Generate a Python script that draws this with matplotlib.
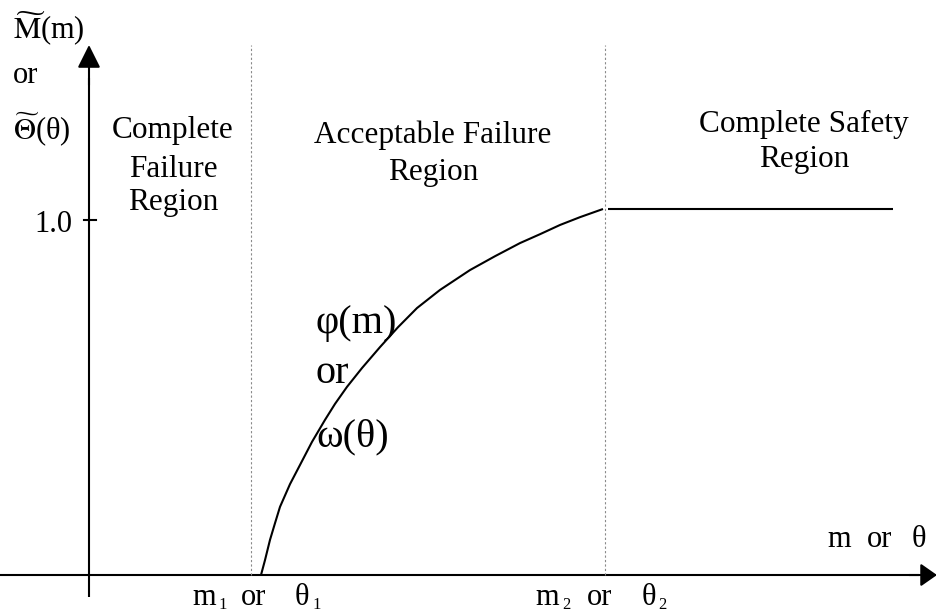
import matplotlib
matplotlib.use("Agg")
import matplotlib.pyplot as plt

plt.rcParams['font.family'] = ['Liberation Serif', 'DejaVu Serif']
plt.rcParams['mathtext.fontset'] = 'stix'

# Membership curve in the acceptable failure region (x: m or theta, y: grade)
curve_x = [1.72, 1.76, 1.81, 1.86, 1.91, 2.01, 2.11, 2.23, 2.36, 2.46, 2.58,
           2.73, 2.91, 3.09, 3.28, 3.51, 3.66, 3.81, 4.06, 4.31, 4.51, 4.71,
           4.91, 5.14]
curve_y = [0.000, 0.042, 0.099, 0.146, 0.192, 0.256, 0.310, 0.375, 0.437,
           0.482, 0.530, 0.583, 0.642, 0.698, 0.752, 0.803, 0.831, 0.859,
           0.898, 0.935, 0.960, 0.986, 1.008, 1.031]

# Complete safety plateau
safe_x = [5.19, 8.04]
safe_y = [1.03, 1.03]

# Region boundaries m1 / theta1 and m2 / theta2
m1 = 1.62
m2 = 5.16

y_ticks = [1.0]
y_tick_labels = ["1.0"]

region_labels = {
    "left": ["Complete", "Failure", "Region"],
    "middle": ["Acceptable Failure", "Region"],
    "right": ["Complete Safety", "Region"],
}

fig = plt.figure(figsize=(9.37, 6.13), dpi=100)
ax = fig.add_axes([0, 0, 1, 1])
ax.set_xlim(-0.89, 8.48)
ax.set_ylim(-0.107, 1.6197)
ax.axis('off')

# axes with arrowheads
ax.plot([-0.89, 8.3], [0, 0], color='black', lw=1.5, solid_capstyle='butt')
ax.annotate('', xy=(8.48, 0), xytext=(8.2, 0),
            arrowprops=dict(arrowstyle='-|>,head_length=1.0,head_width=0.7',
                            color='black', lw=1.5, shrinkA=0, shrinkB=0))
ax.plot([0, 0], [-0.062, 1.40], color='black', lw=1.5, solid_capstyle='butt')
ax.annotate('', xy=(0, 1.493), xytext=(0, 1.38),
            arrowprops=dict(arrowstyle='-|>,head_length=1.4,head_width=0.7',
                            color='black', lw=1.5, shrinkA=0, shrinkB=0))

# y tick
for yt, lab in zip(y_ticks, y_tick_labels):
    ax.plot([-0.05, 0.07], [yt, yt], color='black', lw=1.5)
    ax.text(-0.17, yt - 0.034, lab, ha='right', va='baseline', fontsize=22)

# region boundaries
for xb in (m1, m2):
    ax.plot([xb, xb], [0, 1.493], color='#8a8a8a', lw=0.8, linestyle=(0, (2, 2)))

# curves
ax.plot(curve_x, curve_y, color='black', lw=1.5, solid_capstyle='butt',
        solid_joinstyle='round')
ax.plot(safe_x, safe_y, color='black', lw=1.5, solid_capstyle='butt')

# region labels
fs = 22.5
for txt, y in zip(region_labels["left"], [1.231, 1.121, 1.028]):
    ax.text(0.84, y, txt, ha='center', va='baseline', fontsize=fs)
for txt, y in zip(region_labels["middle"], [1.217, 1.113]):
    ax.text(3.44, y, txt, ha='center', va='baseline', fontsize=fs)
for txt, y in zip(region_labels["right"], [1.248, 1.149]):
    ax.text(7.15, y, txt, ha='center', va='baseline', fontsize=fs)

# y-axis label
ax.text(-0.76, 1.510, r'$\widetilde{\mathrm{M}}$(m)', ha='left', va='baseline', fontsize=22)
ax.text(-0.76, 1.386, 'or', ha='left', va='baseline', fontsize=22)
ax.text(-0.76, 1.228, r'$\widetilde{\Theta}$(θ)', ha='left', va='baseline', fontsize=22)

# curve label
ax.text(2.27, 0.682, 'φ(m)', ha='left', va='baseline', fontsize=29)
ax.text(2.27, 0.541, 'or', ha='left', va='baseline', fontsize=29)
ax.text(2.27, 0.361, 'ω(θ)', ha='left', va='baseline', fontsize=29)

# x-axis labels
base = -0.0845
sub = base - 0.010
ax.text(1.03, base, 'm', ha='left', va='baseline', fontsize=22)
ax.text(1.29, sub, '1', ha='left', va='baseline', fontsize=12)
ax.text(1.52, base, 'or', ha='left', va='baseline', fontsize=22)
ax.text(2.06, base, 'θ', ha='left', va='baseline', fontsize=22)
ax.text(2.23, sub, '1', ha='left', va='baseline', fontsize=12)

ax.text(4.46, base, 'm', ha='left', va='baseline', fontsize=22)
ax.text(4.73, sub, '2', ha='left', va='baseline', fontsize=12)
ax.text(4.98, base, 'or', ha='left', va='baseline', fontsize=22)
ax.text(5.53, base, 'θ', ha='left', va='baseline', fontsize=22)
ax.text(5.69, sub, '2', ha='left', va='baseline', fontsize=12)

ax.text(7.38, 0.0789, 'm', ha='left', va='baseline', fontsize=22)
ax.text(7.78, 0.0789, 'or', ha='left', va='baseline', fontsize=22)
ax.text(8.23, 0.0789, 'θ', ha='left', va='baseline', fontsize=22)

fig.savefig('out.png', dpi=100)
